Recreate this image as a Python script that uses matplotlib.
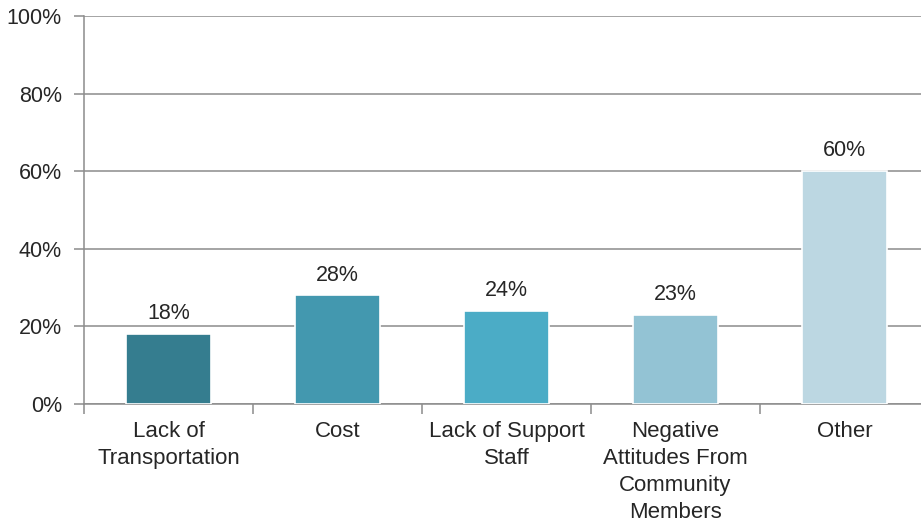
import numpy as np
import matplotlib
matplotlib.use("Agg")
import matplotlib.pyplot as plt
from matplotlib.ticker import FixedLocator, PercentFormatter

plt.rcParams['font.family'] = ['Liberation Sans', 'DejaVu Sans']

categories = ['Lack of\nTransportation', 'Cost', 'Lack of Support\nStaff',
              'Negative\nAttitudes From\nCommunity\nMembers', 'Other']
values = [18, 28, 24, 23, 60]
colors = ['#357d8f', '#4398af', '#4bacc6', '#93c3d4', '#bcd7e2']

fig = plt.figure(figsize=(9.21, 5.24), dpi=100)
ax = fig.add_axes([0.0912, 0.229, 0.9175, 0.7405])

x = np.arange(len(categories))
bars = ax.bar(x, values, width=0.5, color=colors, edgecolor='white', linewidth=1.2, zorder=3)

for b, v in zip(bars, values):
    ax.annotate(f'{v}%', (b.get_x() + b.get_width() / 2, v), xytext=(0, 7),
                textcoords='offset points', ha='center', va='bottom',
                fontsize=15.5, color='#262626')

ax.set_xlim(-0.5, len(categories) - 0.5)
ax.set_ylim(0, 100)
ax.set_yticks(range(0, 101, 20))
ax.yaxis.set_major_formatter(PercentFormatter(decimals=0))
ax.yaxis.grid(True, color='#8c8c8c', linewidth=1.1, zorder=0)

ax.set_xticks(x)
ax.set_xticklabels(categories, fontsize=16, color='#262626', linespacing=1.38)
ax.xaxis.set_minor_locator(FixedLocator(np.arange(-0.5, len(categories), 1.0)))
ax.tick_params(axis='x', which='major', length=0, pad=12)
ax.tick_params(axis='x', which='minor', length=7, color='#8c8c8c', width=1.1)
ax.tick_params(axis='y', length=7, color='#8c8c8c', width=1.1, labelsize=15.5,
               labelcolor='#262626', pad=9)

for side in ['top', 'right']:
    ax.spines[side].set_visible(False)
for side in ['left', 'bottom']:
    ax.spines[side].set_color('#8c8c8c')
    ax.spines[side].set_linewidth(1.1)

fig.savefig('out.png', dpi=100)
